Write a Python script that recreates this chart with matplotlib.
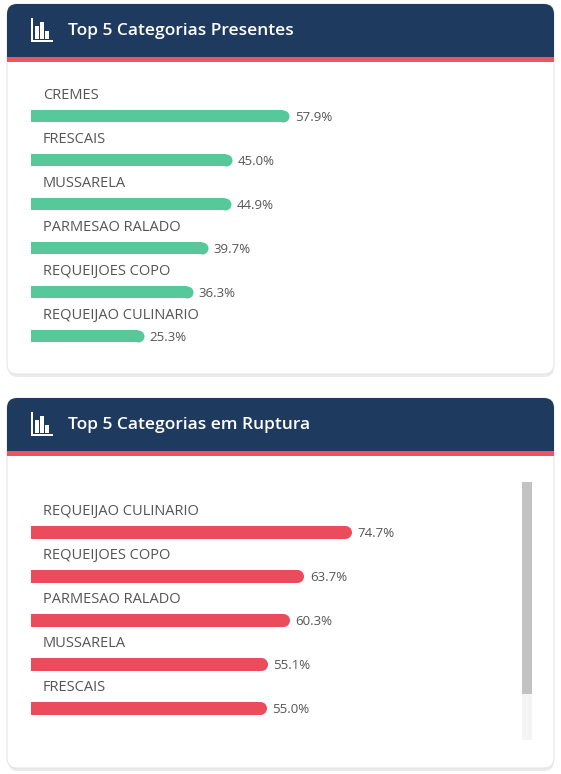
import matplotlib
matplotlib.use("Agg")
import matplotlib.pyplot as plt
from matplotlib.patches import FancyBboxPatch, Rectangle

present_cats = ["CREMES", "FRESCAIS", "MUSSARELA", "PARMESAO RALADO",
                "REQUEIJOES COPO", "REQUEIJAO CULINARIO"]
present_vals = [57.9, 45.0, 44.9, 39.7, 36.3, 25.3]

rupture_cats = ["REQUEIJAO CULINARIO", "REQUEIJOES COPO", "PARMESAO RALADO",
                "MUSSARELA", "FRESCAIS"]
rupture_vals = [74.7, 63.7, 60.3, 55.1, 55.0]

NAVY = "#1f3a5f"
STRIPE = "#ef5360"
GREEN = "#57c89a"
RED = "#eb4c5c"
W, H = 561, 774

fig = plt.figure(figsize=(W / 100, H / 100), dpi=100)
fig.patch.set_facecolor("white")
bg = fig.add_axes([0, 0, 1, 1])
bg.set_xlim(0, W)
bg.set_ylim(H, 0)
bg.axis("off")


def card(y0, y1, title):
    bg.add_patch(FancyBboxPatch((8, y0 + 3), 546, y1 - y0, boxstyle="round,pad=0,rounding_size=10",
                                fc="#dcdcdc", ec="none", alpha=0.6))
    bg.add_patch(FancyBboxPatch((7, y0), 547, y1 - y0, boxstyle="round,pad=0,rounding_size=10",
                                fc="white", ec="#e6e6e6", lw=0.8))
    bg.add_patch(FancyBboxPatch((7, y0), 547, 45, boxstyle="round,pad=0,rounding_size=10",
                                fc=NAVY, ec="none"))
    bg.add_patch(Rectangle((7, y0 + 30), 547, 23, fc=NAVY, ec="none"))
    bg.add_patch(Rectangle((7, y0 + 53), 547, 5, fc=STRIPE, ec="none"))
    # bar chart icon
    ix, iy = 31, y0 + 14
    bg.add_patch(Rectangle((ix, iy), 2, 24, fc="white"))
    bg.add_patch(Rectangle((ix, iy + 22), 22, 2, fc="white"))
    for dx, top in [(4, 8), (9, 4), (14, 13)]:
        bg.add_patch(Rectangle((ix + dx, iy + top), 4, 21 - top, fc="white"))
    bg.text(68, y0 + 27, title, color="white", fontsize=12.5, fontweight="semibold",
            family="Open Sans", va="center", ha="left")


card(4, 374, "Top 5 Categorias Presentes")
card(398, 768, "Top 5 Categorias em Ruptura")

# scrollbar
bg.add_patch(Rectangle((522, 482), 10, 258, fc="#f4f4f4", ec="none"))
bg.add_patch(Rectangle((522, 482), 10, 212, fc="#c2c2c2", ec="none"))


def bars(cats, vals, color, first_y, px_per_unit, bar_px):
    n = len(cats)
    top = first_y - 22
    bottom = first_y + 44 * (n - 1) + 22
    ax = fig.add_axes([31 / W, 1 - bottom / H, 480 / W, (bottom - top) / H])
    ax.set_xlim(0, 480 / px_per_unit)
    ax.set_ylim(n - 0.5, -0.5)
    ax.axis("off")
    h = bar_px / 44
    r = (bar_px / 2) / px_per_unit
    for i, (c, v) in enumerate(zip(cats, vals)):
        ax.barh(i, v - r, height=h, color=color, left=0)
        ax.plot([v - r], [i], "o", ms=bar_px * 0.72, color=color, mec="none")
        ax.text(12 / px_per_unit, i - 0.47, c, fontsize=10.5, color="#555555",
                family="Open Sans", va="center", ha="left")
        ax.text(v + 6 / px_per_unit, i + 0.03, f"{v:.1f}%", fontsize=9.5, color="#555555",
                family="Open Sans", va="center", ha="left")


bars(present_cats, present_vals, GREEN, 116, 4.456, 12)
bars(rupture_cats, rupture_vals, RED, 532, 4.284, 13)

fig.savefig("out.png", dpi=100, facecolor="white")
